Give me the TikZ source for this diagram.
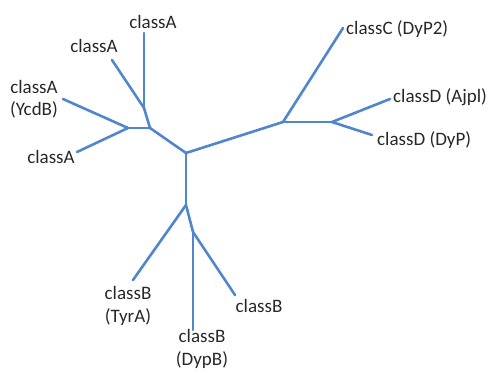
\documentclass[tikz,border=0pt]{standalone}
\usepackage{fontspec}
\setmainfont{Carlito}
\definecolor{branch}{RGB}{80,134,204}
\definecolor{labeltext}{RGB}{40,40,40}
\begin{document}
\begin{tikzpicture}[x=1pt,y=-1pt,
  edge/.style={draw=branch,line width=2.6pt,line cap=round,line join=round},
  leaf/.style={text=labeltext,font=\fontsize{19}{22.5}\selectfont,align=center,inner sep=0pt}]
\useasboundingbox (0,0) rectangle (492,372);
% internal nodes of the tree
\coordinate (root) at (186,153);
\coordinate (nA)  at (150,128);
\coordinate (nA1) at (144,108);
\coordinate (nA2) at (128,128);
\coordinate (nCD) at (283,122);
\coordinate (nD)  at (332,122);
\coordinate (nB)  at (186,205);
\coordinate (nB1) at (193,232);
% branch tips
\coordinate (tA1) at (144,33);
\coordinate (tA2) at (112,60);
\coordinate (tA3) at (63,99);
\coordinate (tA4) at (77,152);
\coordinate (tC)  at (343,28);
\coordinate (tD1) at (390,99);
\coordinate (tD2) at (372,135);
\coordinate (tB1) at (133,280);
\coordinate (tB2) at (193,330);
\coordinate (tB3) at (235,295);
% branches
\draw[edge] (root) -- (nA);
\draw[edge] (nA) -- (nA1);
\draw[edge] (nA1) -- (tA1);
\draw[edge] (nA1) -- (tA2);
\draw[edge] (nA) -- (nA2);
\draw[edge] (nA2) -- (tA3);
\draw[edge] (nA2) -- (tA4);
\draw[edge] (root) -- (nCD);
\draw[edge] (nCD) -- (tC);
\draw[edge] (nCD) -- (nD);
\draw[edge] (nD) -- (tD1);
\draw[edge] (nD) -- (tD2);
\draw[edge] (root) -- (nB);
\draw[edge] (nB) -- (tB1);
\draw[edge] (nB) -- (nB1);
\draw[edge] (nB1) -- (tB2);
\draw[edge] (nB1) -- (tB3);
% labels
\node[leaf] (lA1) at (153,22) {classA};
\node[leaf] (lA2) at (94,46) {classA};
\node[leaf] (lA3) at (34,99) {classA\\(YcdB)};
\node[leaf] (lA4) at (51,157) {classA};
\node[leaf,anchor=west] (lC)  at (346,29) {classC (DyP2)};
\node[leaf,anchor=west] (lD1) at (393,97) {classD (Ajpl)};
\node[leaf,anchor=west] (lD2) at (377,140) {classD (DyP)};
\node[leaf] (lB1) at (128,306) {classB\\(TyrA)};
\node[leaf] (lB2) at (202,349) {classB\\(DypB)};
\node[leaf] (lB3) at (259,306) {classB};
\end{tikzpicture}
\end{document}
